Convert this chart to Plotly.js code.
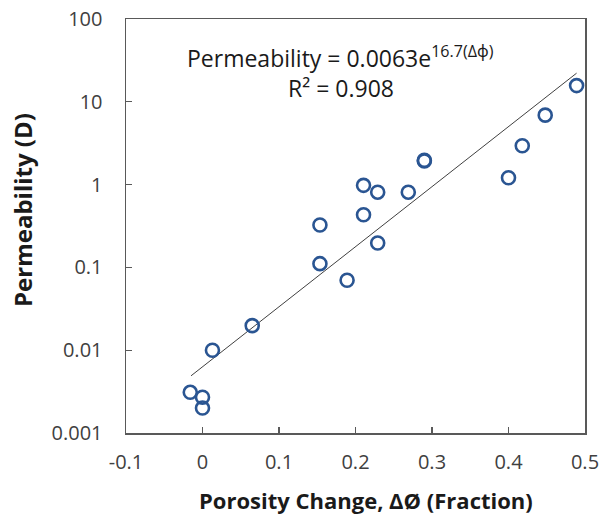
<!DOCTYPE html>
<html><head><meta charset="utf-8">
<script src="https://cdn.plot.ly/plotly-3.0.1.min.js"></script>
<style>html,body{margin:0;padding:0;background:#fff}#chart{width:602px;height:521px}</style>
</head><body><div id="chart"></div>
<script>
const porosityChange = [0.489, 0.448, 0.418, 0.400, 0.290, 0.290, 0.2105, 0.229, 0.269, 0.2105, 0.1535, 0.229, 0.1535, 0.189, 0.065, 0.013, -0.016, 0.0, 0.0];
const permeability   = [15.7, 6.9, 2.95, 1.21, 1.93, 1.97, 0.98, 0.81, 0.81, 0.433, 0.325, 0.197, 0.111, 0.070, 0.0198, 0.0100, 0.0031, 0.0027, 0.0020];
const fitA = 0.0063, fitB = 16.7;
const fitRange = [-0.015, 0.489];
const yTickVals = [0.001, 0.01, 0.1, 1, 10, 100];
const yTickText = ['0.001', '0.01', '0.1', '1', '10', '100'];
const xTickVals = [-0.1, 0, 0.1, 0.2, 0.3, 0.4, 0.5];
const xTickText = ['-0.1', '0', '0.1', '0.2', '0.3', '0.4', '0.5'];

const fitY = fitRange.map(x => fitA * Math.exp(fitB * x));
const font = '"Open Sans", "Noto Sans", sans-serif';

const data = [
  {x: fitRange, y: fitY, mode: 'lines', type: 'scatter', line: {color: '#404040', width: 1}, hoverinfo: 'skip', showlegend: false},
  {x: porosityChange, y: permeability, mode: 'markers', type: 'scatter',
   marker: {symbol: 'circle-open', size: 13, color: '#2A5592', line: {width: 2.6, color: '#2A5592'}}, showlegend: false}
];
const layout = {
  width: 602, height: 521,
  margin: {l: 126, r: 17, t: 19, b: 88},
  paper_bgcolor: '#fff', plot_bgcolor: '#fff',
  font: {family: font, color: '#404040', size: 20},
  xaxis: {range: [-0.1, 0.5], tickvals: xTickVals, ticktext: xTickText, ticks: 'inside', ticklen: 6, tickcolor: '#595959', tickwidth: 1.3,
    showline: true, linecolor: '#595959', linewidth: 1.5, mirror: true, showgrid: false, zeroline: false,
    ticklabelstandoff: 10, tickfont: {size: 20, color: '#404040', family: font}},
  yaxis: {type: 'log', range: [-3, 2], tickvals: yTickVals, ticktext: yTickText, ticks: 'inside', ticklen: 6, tickcolor: '#595959', tickwidth: 1.3,
    showline: true, linecolor: '#595959', linewidth: 1.5, mirror: true, showgrid: false, zeroline: false,
    ticklabelstandoff: 18, tickfont: {size: 20, color: '#404040', family: font}},
  annotations: [
    {xref: 'paper', yref: 'paper', x: 0.468, y: 0.908, xanchor: 'center', yanchor: 'middle', showarrow: false,
     text: 'Permeability = 0.0063e<sup>16.7(Δϕ)</sup>', font: {size: 23, color: '#1a1a1a', family: font}},
    {xref: 'paper', yref: 'paper', x: 0.468, y: 0.833, xanchor: 'center', yanchor: 'middle', showarrow: false,
     text: 'R² = 0.908', font: {size: 23, color: '#1a1a1a', family: font}},
    {xref: 'paper', yref: 'paper', x: (366 - 126) / 459, y: (433 - 500) / 414, xanchor: 'center', yanchor: 'middle', showarrow: false,
     text: '<b>Porosity Change, ΔØ (Fraction)</b>', font: {size: 22, color: '#1a1a1a', family: font}},
    {xref: 'paper', yref: 'paper', x: (22 - 126) / 459, y: (433 - 210) / 414, xanchor: 'center', yanchor: 'middle', showarrow: false, textangle: -90,
     text: '<b>Permeability (D)</b>', font: {size: 24, color: '#1a1a1a', family: font}}
  ]
};
Plotly.newPlot('chart', data, layout, {displayModeBar: false, staticPlot: true});
</script></body></html>
